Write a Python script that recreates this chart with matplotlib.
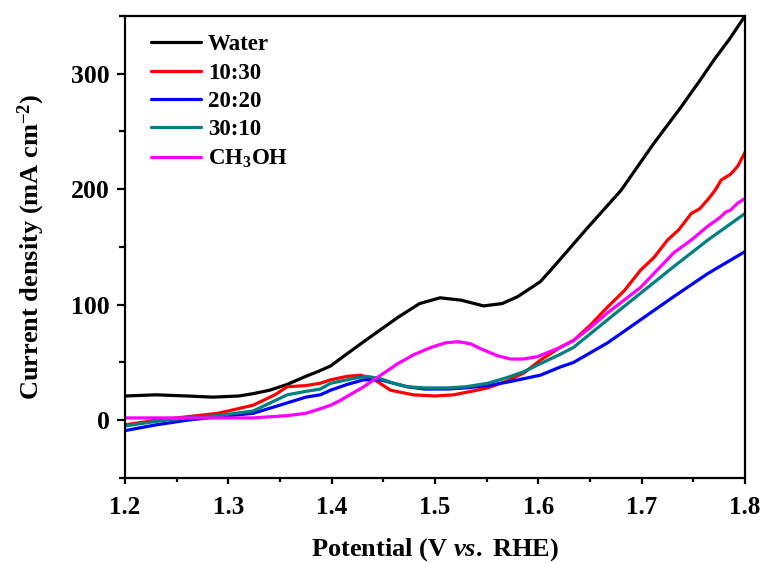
import matplotlib
matplotlib.use("Agg")
import matplotlib.pyplot as plt
from matplotlib.ticker import MultipleLocator

plt.rcParams["font.family"] = ["Liberation Serif", "DejaVu Serif"]
plt.rcParams["font.weight"] = "bold"
plt.rcParams["mathtext.fontset"] = "custom"
plt.rcParams["mathtext.rm"] = "Liberation Serif:bold"
plt.rcParams["mathtext.it"] = "Liberation Serif:italic:bold"
plt.rcParams["mathtext.bf"] = "Liberation Serif:bold"

# LSV curves: potential (V vs. RHE) and current density (mA cm^-2)
water_v = [1.200, 1.230, 1.260, 1.285, 1.310, 1.324, 1.340, 1.357, 1.375, 1.389,
           1.399, 1.408, 1.431, 1.464, 1.485, 1.505, 1.525, 1.547, 1.565, 1.580,
           1.602, 1.615, 1.648, 1.680, 1.712, 1.738, 1.757, 1.770, 1.785, 1.800]
water_j = [21, 22, 21, 20, 21, 23, 26, 31, 38, 43,
           47, 53, 68, 89, 101, 106, 104, 99, 101, 107,
           120, 133, 167, 199, 240, 271, 295, 312, 330, 350]

r1030_v = [1.200, 1.230, 1.260, 1.290, 1.324, 1.345, 1.357, 1.375, 1.389, 1.399,
           1.415, 1.428, 1.440, 1.457, 1.479, 1.500, 1.518, 1.535, 1.551, 1.570,
           1.586, 1.602, 1.621, 1.634, 1.650, 1.667, 1.683, 1.699, 1.712, 1.725,
           1.736, 1.748, 1.756, 1.764, 1.771, 1.777, 1.786, 1.793, 1.800]
r1030_j = [-4, 0, 3, 6, 13, 22, 29, 30, 32, 35,
           38, 39, 36, 26, 22, 21, 22, 25, 28, 34,
           41, 52, 63, 69, 82, 98, 112, 130, 141, 156,
           165, 179, 183, 191, 199, 208, 213, 220, 232]

r2020_v = [1.200, 1.230, 1.260, 1.290, 1.324, 1.357, 1.375, 1.389, 1.399, 1.415,
           1.431, 1.447, 1.460, 1.473, 1.490, 1.512, 1.530, 1.551, 1.570, 1.586,
           1.602, 1.621, 1.634, 1.667, 1.699, 1.731, 1.764, 1.800]
r2020_j = [-9, -4, 0, 3, 6, 15, 20, 22, 26, 31,
           35, 35, 32, 29, 27, 27, 28, 30, 33, 36,
           39, 46, 50, 67, 87, 107, 127, 146]

r3010_v = [1.200, 1.230, 1.260, 1.290, 1.324, 1.357, 1.375, 1.389, 1.399, 1.420,
           1.434, 1.447, 1.460, 1.473, 1.490, 1.512, 1.530, 1.551, 1.570, 1.586,
           1.602, 1.621, 1.634, 1.667, 1.699, 1.731, 1.764, 1.800]
r3010_j = [-5, -1, 2, 4, 8, 22, 25, 27, 32, 36,
           38, 36, 32, 29, 28, 28, 29, 32, 37, 42,
           49, 57, 63, 87, 110, 133, 156, 179]

meoh_v = [1.200, 1.230, 1.260, 1.290, 1.324, 1.357, 1.375, 1.389, 1.399, 1.408,
          1.431, 1.464, 1.480, 1.496, 1.510, 1.523, 1.535, 1.544, 1.560, 1.573,
          1.585, 1.599, 1.621, 1.634, 1.650, 1.667, 1.683, 1.699, 1.715, 1.731,
          1.748, 1.764, 1.775, 1.781, 1.786, 1.793, 1.800]
meoh_j = [2, 2, 2, 2, 2, 4, 6, 10, 13, 17,
          29, 49, 57, 63, 67, 68, 66, 62, 56, 53,
          53, 55, 63, 69, 80, 93, 104, 115, 130, 145,
          156, 168, 175, 180, 182, 188, 192]

series = [
    ("Water", water_v, water_j, "#000000"),
    ("10:30", r1030_v, r1030_j, "#ff0000"),
    ("20:20", r2020_v, r2020_j, "#0000ff"),
    ("30:10", r3010_v, r3010_j, "#008080"),
    ("CH$_\\mathbf{3}$OH", meoh_v, meoh_j, "#ff00ff"),
]

fig = plt.figure(figsize=(7.63, 5.63), dpi=100)
ax = fig.add_axes([0.1638, 0.151, 0.8126, 0.8206])

for label, v, j, c in series:
    ax.plot(v, j, color=c, lw=2.3, label=label, solid_capstyle="round")

ax.set_xlim(1.2, 1.8)
ax.set_ylim(-50, 350)
ax.xaxis.set_major_locator(MultipleLocator(0.1))
ax.xaxis.set_minor_locator(MultipleLocator(0.05))
ax.yaxis.set_major_locator(MultipleLocator(100))
ax.yaxis.set_minor_locator(MultipleLocator(50))
ax.tick_params(axis="x", which="major", direction="out", length=4, width=1.6,
               labelsize=18, pad=9)
ax.tick_params(axis="x", which="minor", direction="out", length=3, width=1.6)
ax.tick_params(axis="y", which="major", direction="out", length=6, width=1.6,
               labelsize=18.5, pad=5)
ax.tick_params(axis="y", which="minor", direction="out", length=4, width=1.6)
for lab in ax.get_xticklabels() + ax.get_yticklabels():
    lab.set_fontweight("bold")
for s in ax.spines.values():
    s.set_linewidth(1.6)

ax.set_xlabel("Potential (V $\\it{vs.}$ RHE)", fontsize=19, fontweight="bold", labelpad=12)
ax.set_ylabel("Current density (mA cm$^{\\mathbf{-2}}$)", fontsize=19, fontweight="bold", labelpad=17)

leg = ax.legend(loc="upper left", frameon=False, fontsize=16.5, handlelength=2.2,
                handletextpad=0.3, labelspacing=0.32, borderaxespad=0.4,
                bbox_to_anchor=(0.012, 1.0))
for t in leg.get_texts():
    t.set_fontweight("bold")

fig.savefig("out.png", dpi=100)
